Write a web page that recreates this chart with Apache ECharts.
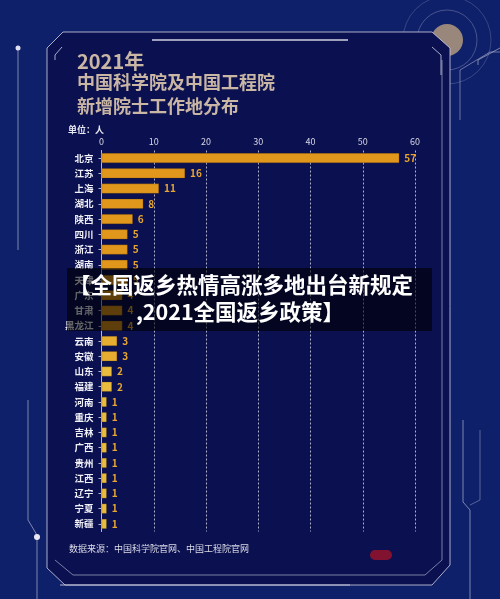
<!DOCTYPE html>
<html><head><meta charset="utf-8">
<script src="https://cdn.jsdelivr.net/npm/echarts@6/dist/echarts.min.js"></script>
<style>html,body{margin:0;padding:0;background:#0f206a;}#c{width:500px;height:599px;}</style>
</head><body><div id="c"></div>
<script>
const categories = ['北京','江苏','上海','湖北','陕西','四川','浙江','湖南','天津','广东','甘肃','黑龙江','云南','安徽','山东','福建','河南','重庆','吉林','广西','贵州','江西','辽宁','宁夏','新疆'];
const values = [57,16,11,8,6,5,5,5,5,4,4,4,3,3,2,2,1,1,1,1,1,1,1,1,1];
const xTicks = [0,10,20,30,40,50,60];
const titleLines = ['2021年','中国科学院及中国工程院','新增院士工作地分布'];
const unitText = '单位：人';
const sourceText = '数据来源：中国科学院官网、中国工程院官网';
const bannerLines = ['【全国返乡热情高涨多地出台新规定', ',2021全国返乡政策】'];

const FONT = '"Noto Sans CJK SC", sans-serif';
const chart = echarts.init(document.getElementById('c'));
const lineC = 'rgba(200,200,220,0.85)';
function barColor(v){ return v >= 4 ? '#e1971c' : (v >= 3 ? '#e6ad30' : '#e9bb3e'); }

chart.setOption({
  backgroundColor: '#0f206a',
  animation: false,
  graphic: [
    {type:'polygon', z:-10, shape:{points:[[63,32],[432,32],[450,48],[450,565],[432,585],[65,585],[47,568],[47,48]]}, style:{fill:'#0a1050', stroke:lineC, lineWidth:1}},
    {type:'polyline', z:-9, shape:{points:[[55,560],[73,575],[425,575],[442,560],[442,60]]}, style:{stroke:'rgba(200,200,220,0.6)', fill:null, lineWidth:1}},
    {type:'polyline', z:-9, shape:{points:[[55,60],[55,55],[62,47]]}, style:{stroke:lineC, fill:null, lineWidth:1}},
    {type:'polyline', z:-9, shape:{points:[[432,47],[441,55],[441,75]]}, style:{stroke:lineC, fill:null, lineWidth:1}},
    {type:'line', z:-9, shape:{x1:152,y1:40,x2:348,y2:40}, style:{stroke:'#d0d0e0', lineWidth:1.5}},
    {type:'line', z:-9, shape:{x1:60,y1:585,x2:350,y2:585}, style:{stroke:'rgba(220,220,235,0.8)', lineWidth:1}},
    {type:'line', z:-9, shape:{x1:18,y1:48,x2:18,y2:250}, style:{stroke:'rgba(200,200,220,0.6)', lineWidth:1}},
    {type:'circle', z:-9, shape:{cx:18,cy:48,r:2.5}, style:{fill:'#e0e0f0'}},
    {type:'polyline', z:-9, shape:{points:[[28,400],[28,520],[37,535],[37,599]]}, style:{stroke:'rgba(200,200,220,0.6)', fill:null, lineWidth:1}},
    {type:'circle', z:-9, shape:{cx:37,cy:537,r:3}, style:{fill:'#e8e8f4'}},
    {type:'polyline', z:-9, shape:{points:[[478,65],[478,60],[500,48]]}, style:{stroke:'rgba(200,200,220,0.6)', fill:null, lineWidth:1}},
    {type:'polyline', z:-9, shape:{points:[[460,120],[460,70],[490,52],[500,52]]}, style:{stroke:'rgba(200,200,220,0.5)', fill:null, lineWidth:1}},
    {type:'polyline', z:-9, shape:{points:[[463,420],[463,502],[470,510],[470,599]]}, style:{stroke:'rgba(200,200,220,0.6)', fill:null, lineWidth:1}},
    {type:'polyline', z:-9, shape:{points:[[480,430],[480,500],[470,505]]}, style:{stroke:'rgba(200,200,220,0.4)', fill:null, lineWidth:1}},
    {type:'circle', z:-11, shape:{cx:447,cy:40,r:16}, style:{fill:'rgba(200,170,130,0.75)'}},
    {type:'circle', z:-11, shape:{cx:447,cy:40,r:30}, style:{fill:null, stroke:'rgba(180,180,210,0.35)', lineWidth:1}},
    {type:'circle', z:-11, shape:{cx:447,cy:40,r:44}, style:{fill:null, stroke:'rgba(180,180,210,0.25)', lineWidth:1}},
    {type:'text', left:77, top:51, style:{text:titleLines[0], fill:'#c9b6a4', font:'bold 20px '+FONT}},
    {type:'text', left:77, top:73, style:{text:titleLines[1], fill:'#c9b6a4', font:'bold 18px '+FONT}},
    {type:'text', left:77, top:97, style:{text:titleLines[2], fill:'#c9b6a4', font:'bold 18px '+FONT}},
    {type:'text', left:68, top:125, style:{text:unitText, fill:'#e8e8f0', font:'bold 9px '+FONT}},
    {type:'text', left:69, top:544, style:{text:sourceText, fill:'#dcdce8', font:'9px '+FONT}},
    {type:'rect', z:-9, shape:{x:370,y:550,width:22,height:10,r:5}, style:{fill:'rgba(160,20,40,0.8)'}},
    {type:'rect', z:100, shape:{x:67,y:268,width:365,height:63}, style:{fill:'rgba(0,0,0,0.58)'}},
    {type:'text', z:101, x:241, y:285, style:{text:bannerLines[0], fill:'#ffffff', font:'bold 21.5px '+FONT, align:'center', verticalAlign:'middle'}},
    {type:'text', z:101, x:240, y:312, style:{text:bannerLines[1], fill:'#ffffff', font:'bold 21.5px '+FONT, align:'center', verticalAlign:'middle'}}
  ],
  grid: {left:101.5, right:85, top:150.5, bottom:67.5, containLabel:false},
  xAxis: {
    type:'value', position:'top', min:xTicks[0], max:xTicks[xTicks.length-1], interval:10,
    axisLine:{show:false}, axisTick:{show:false},
    axisLabel:{color:'#d8d8e4', fontSize:9, margin:4, fontFamily:FONT},
    splitLine:{show:true, lineStyle:{color:'rgba(230,230,240,0.75)', type:[2,2], width:1}}
  },
  yAxis: {
    type:'category', data:categories, inverse:true,
    axisLine:{show:true, lineStyle:{color:'#b8b8cc', width:1}},
    axisTick:{show:true, length:3, alignWithLabel:true, lineStyle:{color:'#b8b8cc'}},
    axisLabel:{color:'#f0f0f6', fontSize:9.5, margin:8, fontWeight:'bold', fontFamily:FONT}
  },
  series: [{
    type:'bar', data:values, barWidth:10,
    itemStyle:{color: p => barColor(p.value), borderColor:'rgba(80,50,0,0.5)', borderWidth:0.5},
    label:{show:true, position:'right', distance:5, color:'#e8a530', fontSize:10, fontWeight:'bold', fontFamily:FONT}
  }]
});
</script></body></html>
